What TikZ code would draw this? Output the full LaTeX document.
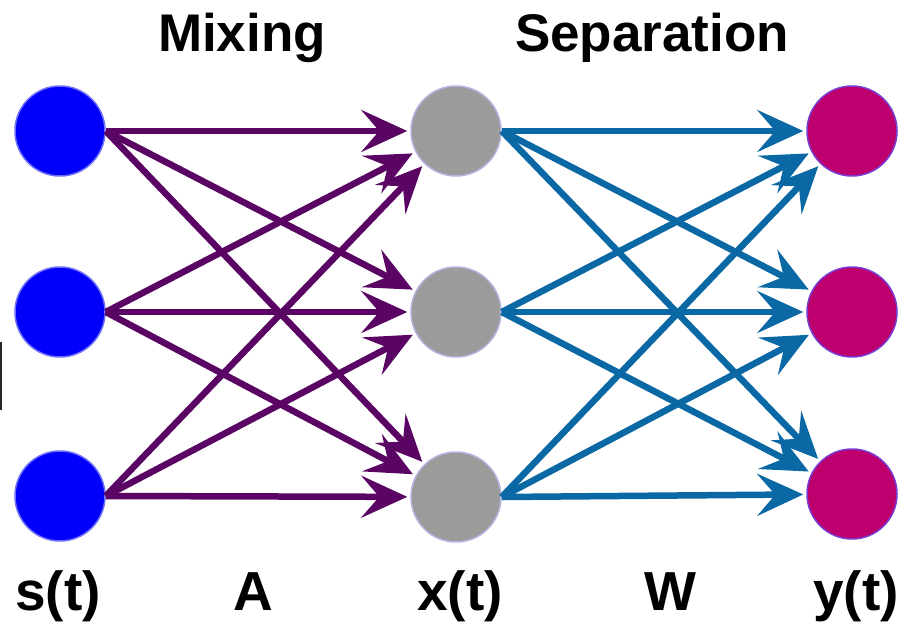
\documentclass[tikz,border=0pt]{standalone}
\usepackage{fontspec}
\setmainfont{Liberation Sans}
\usetikzlibrary{arrows.meta}
\definecolor{srcblue}{RGB}{0,0,250}
\definecolor{srcedge}{RGB}{110,110,250}
\definecolor{midgray}{RGB}{155,155,155}
\definecolor{midedge}{RGB}{180,180,225}
\definecolor{outmag}{RGB}{190,0,110}
\definecolor{outedge}{RGB}{120,60,210}
\definecolor{mixpurple}{RGB}{90,5,100}
\definecolor{sepblue}{RGB}{10,105,165}
\tikzset{
  dot/.style={circle, minimum size=90pt, inner sep=0pt, line width=1.5pt},
  srcdot/.style={dot, fill=srcblue, draw=srcedge},
  middot/.style={dot, fill=midgray, draw=midedge},
  outdot/.style={dot, fill=outmag, draw=outedge},
  conn/.style={line width=6.5pt, shorten >=3pt, -{Stealth[length=46pt,width=42pt,inset=18pt]}},
  mixarrow/.style={conn, draw=mixpurple, fill=mixpurple},
  separrow/.style={conn, draw=sepblue, fill=sepblue},
  title/.style={font=\fontsize{53}{55}\selectfont\bfseries, anchor=base, inner sep=0pt},
  label/.style={font=\fontsize{55}{57}\selectfont\bfseries, anchor=base, inner sep=0pt}
}
\begin{document}
\begin{tikzpicture}[x=1pt,y=-1pt]
\useasboundingbox (0,0) rectangle (909,623);
% nodes
\node[srcdot] (s1) at (60,131) {};
\node[srcdot] (s2) at (60,312) {};
\node[srcdot] (s3) at (60,496) {};
\node[middot] (x1) at (456,131) {};
\node[middot] (x2) at (456,312) {};
\node[middot] (x3) at (456,497) {};
\node[outdot] (y1) at (852,131) {};
\node[outdot] (y2) at (852,312) {};
\node[outdot] (y3) at (852,494) {};
% mixing arrows
\foreach \i in {1,2,3}{
  \foreach \j in {1,2,3}{
    \draw[mixarrow] (s\i.east) -- (x\j);
  }
}
% separation arrows
\foreach \i in {1,2,3}{
  \foreach \j in {1,2,3}{
    \draw[separrow] (x\i.east) -- (y\j);
  }
}
% titles
\node[title] (tmix) at (242,52) {Mixing};
\node[title] (tsep) at (652,52) {Separation};
% bottom labels
\node[label] (ls) at (58,610) {s(t)};
\node[label] (lA) at (253,610) {A};
\node[label] (lx) at (460,610) {x(t)};
\node[label] (lW) at (670,610) {W};
\node[label] (ly) at (856,610) {y(t)};
% small edge mark
\draw[line width=2pt, black!85] (1,342) -- (1,410);
\end{tikzpicture}
\end{document}
